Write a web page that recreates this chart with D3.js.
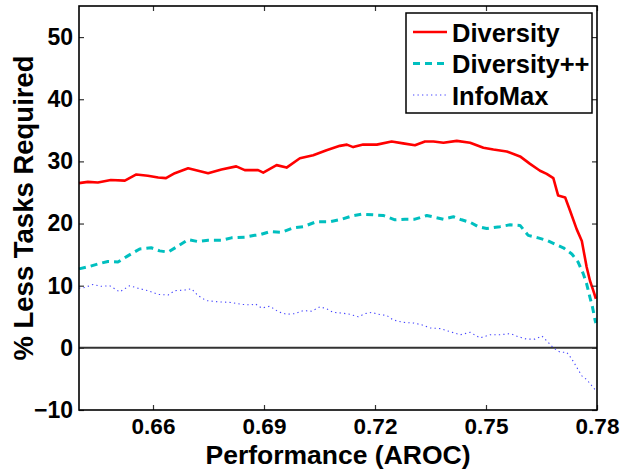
<!DOCTYPE html>
<html><head><meta charset="utf-8">
<script src="https://cdn.jsdelivr.net/npm/d3@7"></script>
<style>body{margin:0;background:#fff}svg{display:block}text{font-family:"Liberation Sans",Arial,Helvetica,sans-serif;font-weight:bold;fill:#000}</style>
</head><body>
<script>
const xTicks = [0.66, 0.69, 0.72, 0.75, 0.78];
const yTicks = [-10, 0, 10, 20, 30, 40, 50];
const seriesNames = ["Diversity", "Diversity++", "InfoMax"];

const divX = [0.6400,0.6424,0.6451,0.6486,0.6524,0.6555,0.6586,0.6614,0.6635,0.6659,0.6695,0.6722,0.6749,0.6785,0.6825,0.6848,0.6884,0.6898,0.6934,0.6961,0.6997,0.7033,0.7069,0.7105,0.7124,0.7141,0.7168,0.7205,0.7245,0.7276,0.7308,0.7335,0.7358,0.7385,0.7421,0.7457,0.7493,0.7520,0.7556,0.7592,0.7619,0.7646,0.7664,0.7682,0.7695,0.7714,0.7727,0.7745,0.7759,0.7772,0.7781,0.7790,0.7797];
const divY = [26.5,26.7,26.6,27.0,26.9,27.9,27.7,27.4,27.3,28.1,28.9,28.5,28.1,28.7,29.2,28.6,28.6,28.2,29.4,29.0,30.5,31.0,31.8,32.5,32.7,32.3,32.7,32.7,33.2,32.9,32.6,33.2,33.2,33.0,33.3,33.0,32.2,31.9,31.6,30.8,29.6,28.5,28.0,27.3,24.5,24.2,22.1,19.1,17.2,13.0,10.8,9.2,7.9];

const divppX = [0.6400,0.6429,0.6451,0.6478,0.6505,0.6532,0.6564,0.6595,0.6618,0.6641,0.6668,0.6695,0.6722,0.6749,0.6785,0.6812,0.6848,0.6875,0.6889,0.6916,0.6948,0.6979,0.7006,0.7042,0.7078,0.7110,0.7137,0.7164,0.7195,0.7222,0.7254,0.7281,0.7308,0.7340,0.7362,0.7385,0.7412,0.7434,0.7457,0.7479,0.7502,0.7538,0.7565,0.7592,0.7614,0.7641,0.7664,0.7686,0.7709,0.7732,0.7749,0.7763,0.7772,0.7781,0.7788,0.7795,0.7797];
const divppY = [12.7,13.1,13.5,13.9,13.8,14.8,15.9,16.1,15.6,15.4,16.4,17.4,17.1,17.3,17.3,17.7,17.8,18.1,18.2,18.7,18.6,19.3,19.5,20.3,20.3,20.7,21.2,21.5,21.4,21.3,20.6,20.7,20.7,21.3,21.0,20.7,21.1,20.6,20.2,19.5,19.2,19.5,19.8,19.7,18.1,17.7,17.3,16.7,16.1,15.1,13.8,11.9,10.3,8.1,6.5,4.4,4.0];

const infoX = [0.6400,0.6415,0.6438,0.6460,0.6483,0.6510,0.6537,0.6559,0.6586,0.6614,0.6641,0.6659,0.6686,0.6704,0.6722,0.6744,0.6776,0.6812,0.6839,0.6866,0.6876,0.6894,0.6916,0.6939,0.6961,0.6984,0.7006,0.7029,0.7051,0.7069,0.7087,0.7110,0.7132,0.7155,0.7173,0.7191,0.7209,0.7232,0.7249,0.7276,0.7304,0.7326,0.7349,0.7376,0.7403,0.7430,0.7457,0.7484,0.7511,0.7538,0.7565,0.7587,0.7610,0.7632,0.7651,0.7668,0.7682,0.7700,0.7718,0.7732,0.7745,0.7759,0.7772,0.7786,0.7797];
const infoY = [9.6,9.7,10.2,9.9,10.0,9.0,10.0,9.6,9.2,8.6,8.5,9.2,9.3,9.5,8.4,7.6,7.4,7.3,7.0,6.9,7.1,6.4,6.7,5.8,5.4,5.5,6.0,5.9,6.6,6.3,5.7,5.6,5.4,5.0,5.5,5.7,5.4,5.2,4.5,4.1,4.0,3.7,3.2,3.1,2.6,2.1,2.5,1.6,2.1,2.1,2.3,1.8,1.4,1.4,1.9,0.9,0.0,-0.7,-0.7,-1.8,-3.1,-4.5,-5.1,-6.1,-6.9];

const W = 626, H = 470;
const L = 79, R = 597, T = 6, B = 410;
const svg = d3.select("body").append("svg").attr("width", W).attr("height", H);
const x = d3.scaleLinear().domain([0.64, 0.78]).range([L, R]);
const y = d3.scaleLinear().domain([-10, 55]).range([B, T]);

const styles = [
  {color: "#ff0000", width: 2.6, dash: null},
  {color: "#00bfbf", width: 3, dash: "7,5"},
  {color: "#4444ff", width: 1.1, dash: "1.3,3.2"}
];
const data = [
  divX.map((v, i) => [v, divY[i]]),
  divppX.map((v, i) => [v, divppY[i]]),
  infoX.map((v, i) => [v, infoY[i]])
];

// zero line
svg.append("line").attr("x1", L).attr("x2", R).attr("y1", y(0)).attr("y2", y(0))
  .attr("stroke", "#333").attr("stroke-width", 2);

const line = d3.line().x(d => x(d[0])).y(d => y(d[1]));
const plot = svg.append("g");
[2, 1, 0].forEach(i => {
  plot.append("path").datum(data[i]).attr("d", line).attr("fill", "none")
    .attr("stroke", styles[i].color).attr("stroke-width", styles[i].width)
    .attr("stroke-dasharray", styles[i].dash).attr("stroke-linejoin", "round");
});

// axes
const fs = 23;
const xAx = svg.append("g").attr("transform", `translate(0,${B})`)
  .call(d3.axisBottom(x).tickValues(xTicks).tickFormat(d3.format(".2f")).tickSizeInner(-5).tickSizeOuter(0).tickPadding(8));
xAx.selectAll("text").attr("font-size", 22.5).attr("dy", "0.71em");
const yAx = svg.append("g").attr("transform", `translate(${L},0)`)
  .call(d3.axisLeft(y).tickValues(yTicks).tickFormat(d => d < 0 ? "\u2212" + Math.abs(d) : d).tickSizeInner(-5).tickSizeOuter(0).tickPadding(6));
yAx.selectAll("text").attr("font-size", fs);
svg.append("g").attr("transform", `translate(0,${T})`)
  .call(d3.axisTop(x).tickValues(xTicks).tickFormat("").tickSizeInner(-5).tickSizeOuter(0));
svg.append("g").attr("transform", `translate(${R},0)`)
  .call(d3.axisRight(y).tickValues(yTicks).tickFormat("").tickSizeInner(-5).tickSizeOuter(0));
svg.selectAll(".domain").remove();
svg.selectAll(".tick line").attr("stroke", "#333").attr("stroke-width", 1.2);
svg.selectAll(".tick text").attr("font-family", "Liberation Sans, Arial, sans-serif").attr("font-weight", "bold").attr("fill", "#000");

// frame
svg.append("rect").attr("x", L).attr("y", T).attr("width", R - L).attr("height", B - T)
  .attr("fill", "none").attr("stroke", "#000").attr("stroke-width", 1.6);

// axis titles
svg.append("text").attr("x", (L + R) / 2).attr("y", 464).attr("text-anchor", "middle")
  .attr("font-size", 26.5).text("Performance (AROC)");
svg.append("text").attr("transform", `translate(33,${(T + B) / 2}) rotate(-90)`).attr("text-anchor", "middle")
  .attr("font-size", 27.5).text("% Less Tasks Required");

// legend
const lg = svg.append("g");
lg.append("rect").attr("x", 406).attr("y", 13).attr("width", 186).attr("height", 100)
  .attr("fill", "#fff").attr("stroke", "#000").attr("stroke-width", 1.5);
const ly = [32, 63.5, 95];
seriesNames.forEach((n, i) => {
  lg.append("line").attr("x1", 413).attr("x2", 447).attr("y1", ly[i]).attr("y2", ly[i])
    .attr("stroke", styles[i].color).attr("stroke-width", styles[i].width)
    .attr("stroke-dasharray", styles[i].dash);
  lg.append("text").attr("x", 452).attr("y", ly[i] + 9.5).attr("font-size", 25.5).text(n);
});
</script>
</body></html>
